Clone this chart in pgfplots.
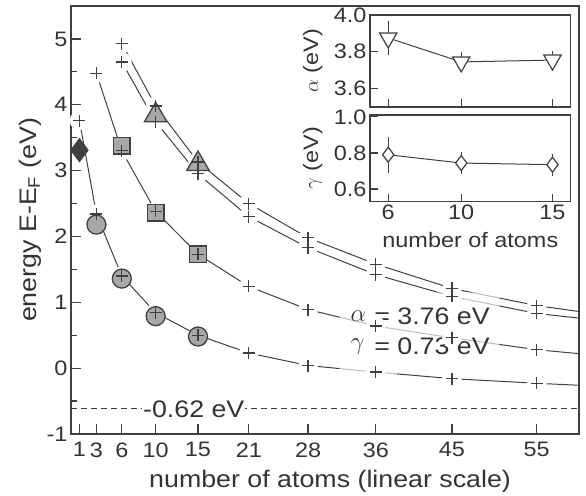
\documentclass[border=0pt]{standalone}
\usepackage{pgfplots}
\pgfplotsset{compat=1.18}
\usepackage{fontspec}
\setmainfont{Liberation Sans}[FakeStretch=1.12]
\usetikzlibrary{calc}
\definecolor{ax}{HTML}{404040}
\definecolor{fillg}{HTML}{A8A8A8}
\definecolor{txt}{HTML}{333333}
\newcommand{\tfont}{\fontsize{21}{24}\selectfont}
\newcommand{\lfont}{\fontsize{24}{28}\selectfont}

% fitted curves (last point only continues the line to the frame)
\pgfplotstableread{
N E
1 3.76
3 2.34
6 1.40
10 0.84
15 0.50
21 0.23
28 0.04
36 -0.06
45 -0.16
55 -0.23
60 -0.26
}\curveA
\pgfplotstableread{
N E
3 4.48
6 3.30
10 2.38
15 1.73
21 1.24
28 0.89
36 0.64
45 0.46
55 0.28
60 0.22
}\curveB
\pgfplotstableread{
N E
6 4.93
10 3.98
15 3.13
21 2.50
28 1.98
36 1.58
45 1.21
55 0.95
60 0.86
}\curveC
\pgfplotstableread{
N E
6 4.65
10 3.74
15 2.95
21 2.30
28 1.83
36 1.42
45 1.09
55 0.83
60 0.76
}\curveD

\begin{document}
\begin{tikzpicture}
\begin{axis}[
    name=main,
    scale only axis,
    width=508bp, height=428bp,
    xmin=0, xmax=60, ymin=-1, ymax=5.5,
    xtick={1,3,6,10,15,21,28,36,45,55},
    xticklabels={1,3,6,10,15,21,28,36,45,55},
    ytick={-1,0,1,2,3,4,5},
    yticklabels={-1,0,1,2,3,4,5},
    minor ytick={-0.5,0.5,1.5,2.5,3.5,4.5},
    xtick pos=bottom, ytick pos=left,
    tick align=inside,
    major tick length=10bp, minor tick length=6bp,
    axis line style={ax, line width=1.3pt},
    tick style={ax, line width=1.2pt},
    ticklabel style={font=\tfont, text=txt},
    xticklabel style={yshift=-5bp},
    xlabel={number of atoms (linear scale)},
    ylabel={energy E-E\textsubscript{F} (eV)},
    label style={font=\lfont, text=txt},
    xlabel style={at={(axis description cs:0.51,-0.11)}, anchor=center},
    ylabel style={at={(axis description cs:-0.081,0.5)}, anchor=center},
]
% lines
\addplot[ax, line width=1pt] table[x=N, y=E] {\curveA};
\addplot[ax, line width=1pt] table[x=N, y=E] {\curveB};
\addplot[ax, line width=1pt] table[x=N, y=E] {\curveC};
\addplot[ax, line width=1pt] table[x=N, y=E] {\curveD};

% gaps round the + marks
\pgfplotsset{gap/.style={white, only marks, mark=*, mark size=9.5bp, restrict x to domain=0:56}}
\addplot[gap] table[x=N, y=E] {\curveA};
\addplot[gap] table[x=N, y=E] {\curveB};
\addplot[gap] table[x=N, y=E] {\curveC};
\addplot[gap] table[x=N, y=E] {\curveD};

% -0.62 eV level
\addplot[ax, line width=1pt, dash pattern=on 6bp off 4bp] coordinates {(0,-0.62) (60,-0.62)};

% measured points
\addplot[only marks, mark=diamond*, mark size=11.5bp, mark options={fill=ax, draw=ax, line width=1pt}] coordinates {(1,3.31)};
\addplot[only marks, mark=*, mark size=9.5bp, mark options={fill=fillg, draw=ax, line width=1.3pt}] coordinates {(3,2.18) (6,1.36) (10,0.79) (15,0.48)};
\addplot[only marks, mark=square*, mark size=8.3bp, mark options={fill=fillg, draw=ax, line width=1.3pt}] coordinates {(6,3.38) (10,2.36) (15,1.73)};
\addplot[only marks, mark=triangle*, mark size=13bp, mark options={fill=fillg, draw=ax, line width=1.3pt}] coordinates {(10,3.84) (15,3.10)};

% + marks of the fits
\pgfplotsset{plus/.style={only marks, mark=+, mark size=6bp, mark options={draw=ax, line width=1.2pt}, restrict x to domain=0:56}}
\addplot[plus] table[x=N, y=E] {\curveA};
\addplot[plus] table[x=N, y=E] {\curveB};
\addplot[plus] table[x=N, y=E] {\curveC};
\addplot[plus] table[x=N, y=E] {\curveD};

% text on a faint white veil
\fill[white, fill opacity=0.65] (axis cs:31.7,-0.15) -- (axis cs:38.5,-0.15) -- (axis cs:38.5,-0.02)
    -- (axis cs:50.6,-0.02) -- (axis cs:50.6,1.15) -- (axis cs:31.7,1.15) -- cycle;
\node[anchor=west, text=txt, font=\lfont, inner sep=0pt] at (axis cs:33.0,0.79) {$\alpha$};
\node[anchor=west, text=txt, font=\lfont, inner sep=0pt] at (axis cs:35.8,0.79) {= 3.76 eV};
\node[anchor=west, text=txt, font=\lfont, inner sep=0pt] at (axis cs:33.0,0.33) {$\gamma$};
\node[anchor=west, text=txt, font=\lfont, inner sep=0pt] at (axis cs:35.8,0.33) {= 0.73 eV};
\node[fill=white, text=txt, font=\lfont, inner sep=1pt] at (axis cs:14.5,-0.62) {-0.62 eV};
\end{axis}

% inset: alpha
\begin{axis}[
    name=ina,
    at={($(main.north west)+(299bp,-9bp)$)}, anchor=north west,
    scale only axis,
    width=200.7bp, height=92bp,
    xmin=5, xmax=16, ymin=3.5, ymax=4.0,
    xtick={6,10,15}, xticklabels={},
    ytick={3.6,3.8,4.0}, yticklabels={3.6,3.8,4.0},
    xtick pos=bottom, ytick pos=left,
    tick align=inside, major tick length=8bp,
    axis line style={ax, line width=1.3pt},
    tick style={ax, line width=1.2pt},
    ticklabel style={font=\tfont, text=txt},
    ylabel={$\alpha$ (eV)},
    label style={font=\tfont, text=txt},
    ylabel style={at={(axis description cs:-0.285,0.5)}, anchor=center},
]
\addplot[ax, line width=1pt, mark=triangle*, mark size=10bp,
    mark options={fill=white, draw=ax, line width=1.2pt, rotate=180},
    error bars/.cd, y dir=both, y explicit, error mark=none,
    error bar style={ax, line width=1.2pt}]
    table[x=N, y=a, y error=e] {
N a e
6 3.875 0.095
10 3.745 0.055
15 3.755 0.05
};
\end{axis}

% inset: gamma
\begin{axis}[
    name=ing,
    at={($(main.north west)+(299bp,-109bp)$)}, anchor=north west,
    scale only axis,
    width=200.7bp, height=86.7bp,
    xmin=5, xmax=16, ymin=0.53, ymax=1.01,
    xtick={6,10,15}, xticklabels={6,10,15},
    ytick={0.6,0.8,1.0}, yticklabels={0.6,0.8,1.0},
    xtick pos=bottom, ytick pos=left,
    tick align=inside, major tick length=8bp,
    axis line style={ax, line width=1.3pt},
    tick style={ax, line width=1.2pt},
    ticklabel style={font=\tfont, text=txt},
    xlabel={number of atoms},
    ylabel={$\gamma$ (eV)},
    label style={font=\tfont, text=txt},
    ylabel style={at={(axis description cs:-0.285,0.5)}, anchor=center},
    xlabel style={at={(axis description cs:0.5,-0.44)}, anchor=center},
]
\addplot[ax, line width=1pt, mark=diamond*, mark size=7.5bp,
    mark options={fill=white, draw=ax, line width=1.2pt},
    error bars/.cd, y dir=both, y explicit, error mark=none,
    error bar style={ax, line width=1.2pt}]
    table[x=N, y=g, y error=e] {
N g e
6 0.79 0.10
10 0.744 0.06
15 0.735 0.06
};
\end{axis}

\pgfresetboundingbox
\path ($(main.south west)+(-71bp,-62bp)$) rectangle ($(main.north east)+(7bp,6bp)$);
\end{tikzpicture}
\end{document}
